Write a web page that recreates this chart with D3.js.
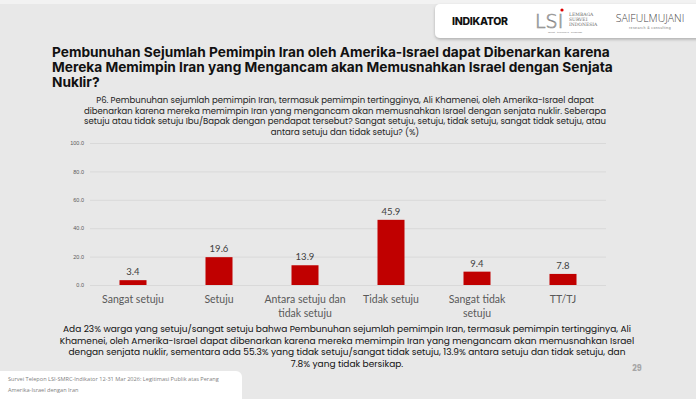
<!DOCTYPE html>
<html>
<head>
<meta charset="utf-8">
<script src="https://cdn.jsdelivr.net/npm/d3@7"></script>
<style>
  html, body { margin: 0; padding: 0; background: #e8e8e8; }
  svg { display: block; }
</style>
</head>
<body>
<svg id="chart" width="696" height="399"></svg>
<script>
"use strict";

const categories = ["Sangat setuju", "Setuju", "Antara setuju dan tidak setuju",
    "Tidak setuju", "Sangat tidak setuju", "TT/TJ"];
const values = [3.4, 19.6, 13.9, 45.9, 9.4, 7.8];
const yTicks = [0, 20, 40, 60, 80, 100];

const titleLines = [
    "Pembunuhan Sejumlah Pemimpin Iran oleh Amerika-Israel dapat Dibenarkan karena",
    "Mereka Memimpin Iran yang Mengancam akan Memusnahkan Israel dengan Senjata",
    "Nuklir?"
];
const questionLines = [
    "P6. Pembunuhan sejumlah pemimpin Iran, termasuk pemimpin tertingginya, Ali Khamenei, oleh Amerika-Israel dapat",
    "dibenarkan karena mereka memimpin Iran yang mengancam akan memusnahkan Israel dengan senjata nuklir. Seberapa",
    "setuju atau tidak setuju Ibu/Bapak dengan pendapat tersebut? Sangat setuju, setuju, tidak setuju, sangat tidak setuju, atau",
    "antara setuju dan tidak setuju? (%)"
];
const summaryLines = [
    "Ada 23% warga yang setuju/sangat setuju bahwa Pembunuhan sejumlah pemimpin Iran, termasuk pemimpin tertingginya, Ali",
    "Khamenei, oleh Amerika-Israel dapat dibenarkan karena mereka memimpin Iran yang mengancam akan memusnahkan Israel",
    "dengan senjata nuklir, sementara ada 55.3% yang tidak setuju/sangat tidak setuju, 13.9% antara setuju dan tidak setuju, dan",
    "7.8% yang tidak bersikap."
];
const footerLines = [
    "Survei Telepon LSI-SMRC-Indikator 12-31 Mar 2026: Legitimasi Publik atas Perang",
    "Amerika-Israel dengan Iran"
];

const svg = d3.select("#chart");
const sans = "Poppins, 'Noto Sans', sans-serif";

svg.append("rect").attr("width", 696).attr("height", 399).attr("fill", "#e8e8e8");
svg.append("rect").attr("width", 696).attr("height", 4).attr("fill", "#f2f2f2");

// logo card
const defs = svg.append("defs");
const shadow = defs.append("filter").attr("id", "shadow")
    .attr("x", "-10%").attr("y", "-20%").attr("width", "120%").attr("height", "160%");
shadow.append("feDropShadow").attr("dx", 0).attr("dy", 1.5).attr("stdDeviation", 1.5)
    .attr("flood-color", "#000").attr("flood-opacity", 0.25);

svg.append("rect").attr("x", 435).attr("y", 4).attr("width", 270).attr("height", 34)
    .attr("rx", 5).attr("fill", "#fff").attr("filter", "url(#shadow)");

const logos = svg.append("g");
logos.append("text").attr("x", 452).attr("y", 25)
    .attr("font-family", "Inter, sans-serif").attr("font-weight", 800)
    .attr("font-size", 10.5).attr("letter-spacing", -0.3).attr("fill", "#111")
    .text("INDIKATOR");
logos.append("text").attr("x", 535).attr("y", 28)
    .attr("font-family", "'DejaVu Sans', sans-serif").attr("font-weight", 200)
    .attr("font-size", 19).attr("fill", "none").attr("stroke", "#888").attr("stroke-width", 0.7)
    .text("LSI");
logos.append("circle").attr("cx", 562).attr("cy", 10).attr("r", 1.6).attr("fill", "#d00");
[["LEMBAGA", 16], ["SURVEI", 21], ["INDONESIA", 26]].forEach(([t, y]) => {
    logos.append("text").attr("x", 569).attr("y", y)
        .attr("font-family", "'DejaVu Serif', serif").attr("font-size", 4.5)
        .attr("fill", "#666").text(t);
});
logos.append("text").attr("x", 565).attr("y", 32.5).attr("text-anchor", "middle")
    .attr("font-family", "sans-serif").attr("font-size", 2.5).attr("fill", "#777")
    .text("akurat · terpercaya · bergengsi");
logos.append("text").attr("x", 650).attr("y", 22).attr("text-anchor", "middle")
    .attr("font-family", "'Open Sans', sans-serif").attr("font-weight", 300)
    .attr("font-size", 10.5).attr("fill", "#444").text("SAIFULMUJANI");
logos.append("text").attr("x", 650).attr("y", 29).attr("text-anchor", "middle")
    .attr("font-family", "sans-serif").attr("font-size", 3.5).attr("fill", "#777")
    .attr("letter-spacing", 0.4).text("research & consulting");

// title
svg.append("g").selectAll("text").data(titleLines).join("text")
    .attr("x", 52).attr("y", (d, i) => 57 + i * 15)
    .attr("font-family", "Inter, sans-serif").attr("font-weight", 700)
    .attr("font-size", 13.7).attr("fill", "#111")
    .text(d => d);

// question text
svg.append("g").selectAll("text").data(questionLines).join("text")
    .attr("x", 345).attr("y", (d, i) => 103 + i * 10.6).attr("text-anchor", "middle")
    .attr("font-family", sans).attr("font-size", 8.5).attr("fill", "#222")
    .text(d => d);

// chart
const x = d3.scaleBand().domain(categories).range([90, 606])
    .paddingInner(0.686).paddingOuter(0.343);
const y = d3.scaleLinear().domain([0, 100]).range([285, 143]);

const gy = svg.append("g").attr("transform", "translate(90,0)")
    .call(d3.axisLeft(y).tickValues(yTicks).tickFormat(d3.format(".1f"))
        .tickSize(-516).tickPadding(6));
gy.select(".domain").remove();
gy.selectAll(".tick line").attr("stroke", "#d9d9d9").attr("stroke-width", 1);
gy.selectAll(".tick text").attr("fill", "#595959").attr("font-size", 5.5)
    .attr("font-family", "'Liberation Sans', sans-serif");

const gx = svg.append("g").attr("transform", "translate(0,285)")
    .call(d3.axisBottom(x).tickSize(0).tickPadding(11));
gx.select(".domain").remove();
gx.selectAll(".tick text").attr("fill", "#595959").attr("font-size", 10.5)
    .attr("font-family", "Lato, 'Liberation Sans', sans-serif")
    .call(wrap, x.step());

svg.append("g").selectAll("rect").data(values).join("rect")
    .attr("x", (d, i) => x(categories[i]))
    .attr("y", d => y(d))
    .attr("width", x.bandwidth())
    .attr("height", d => y(0) - y(d))
    .attr("fill", "#c00000");

svg.append("g").selectAll("text").data(values).join("text")
    .attr("x", (d, i) => x(categories[i]) + x.bandwidth() / 2)
    .attr("y", d => y(d) - 5)
    .attr("text-anchor", "middle")
    .attr("font-family", "Lato, 'Liberation Sans', sans-serif")
    .attr("font-size", 9.5).attr("fill", "#404040")
    .text(d => d.toFixed(1));

// summary
svg.append("g").selectAll("text").data(summaryLines).join("text")
    .attr("x", 347).attr("y", (d, i) => 332 + i * 11.5).attr("text-anchor", "middle")
    .attr("font-family", sans).attr("font-size", 9.0).attr("fill", "#111")
    .text(d => d);

// footer card
svg.append("rect").attr("x", -10).attr("y", 371).attr("width", 252).attr("height", 40)
    .attr("rx", 6).attr("fill", "#fff");
svg.append("g").selectAll("text").data(footerLines).join("text")
    .attr("x", 8).attr("y", (d, i) => 381 + i * 10.5)
    .attr("font-family", "'Open Sans', sans-serif").attr("font-size", 5.6).attr("fill", "#7f7f7f")
    .text(d => d);

svg.append("text").attr("x", 637).attr("y", 371).attr("text-anchor", "middle")
    .attr("font-family", sans).attr("font-weight", 700)
    .attr("font-size", 8).attr("fill", "#a6a6a6").text("29");

function wrap(text, width) {
    text.each(function () {
        const t = d3.select(this),
            words = t.text().split(/\s+/),
            yy = t.attr("y"),
            dy = parseFloat(t.attr("dy"));
        let line = [],
            lineNo = 0,
            tspan = t.text(null).append("tspan").attr("x", 0).attr("y", yy).attr("dy", dy + "em");
        for (const w of words) {
            line.push(w);
            tspan.text(line.join(" "));
            if (tspan.node().getComputedTextLength() > width && line.length > 1) {
                line.pop();
                tspan.text(line.join(" "));
                line = [w];
                tspan = t.append("tspan").attr("x", 0).attr("y", yy)
                    .attr("dy", (++lineNo * 1.25 + dy) + "em").text(w);
            }
        }
    });
}
</script>
</body>
</html>
